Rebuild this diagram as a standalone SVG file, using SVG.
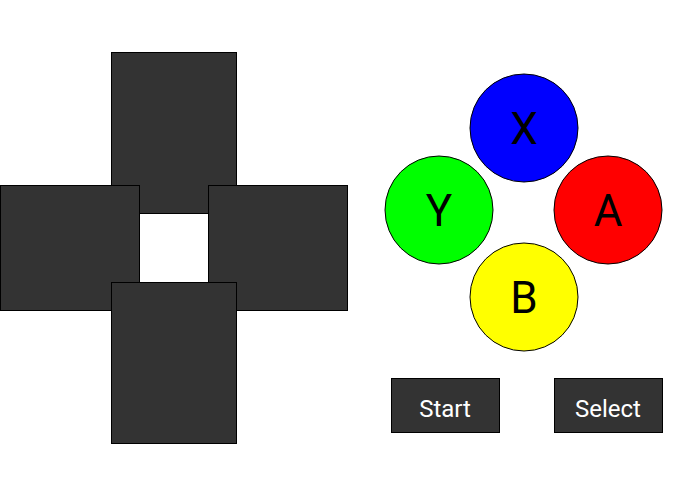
<svg xmlns="http://www.w3.org/2000/svg" width="695" height="494" viewBox="0 0 695 494">
<style>
.d{fill:#333;stroke:#000;stroke-width:1}
.c{stroke:#000;stroke-width:1}
.l{font-family:Roboto,"Liberation Sans",sans-serif;font-size:44px;fill:#000;text-anchor:middle}
.b{fill:#333;stroke:#000;stroke-width:1}
.t{font-family:Roboto,"Liberation Sans",sans-serif;font-size:24px;fill:#fff;text-anchor:middle}
</style>
<rect width="695" height="494" fill="#fff"/>
<g id="dpad-up"><rect class="d" x="111.5" y="52.5" width="125" height="161"/></g>
<g id="dpad-left"><rect class="d" x="0.5" y="185.5" width="139" height="125"/></g>
<g id="dpad-right"><rect class="d" x="208.5" y="185.5" width="139" height="125"/></g>
<g id="dpad-down"><rect class="d" x="111.5" y="282.5" width="125" height="161"/></g>
<g id="btn-x"><circle class="c" cx="524" cy="128" r="54" fill="#0000ff"/><text class="l" x="524" y="144">X</text></g>
<g id="btn-y"><circle class="c" cx="439" cy="210" r="54" fill="#00ff00"/><text class="l" x="439" y="226">Y</text></g>
<g id="btn-a"><circle class="c" cx="608" cy="210" r="54" fill="#ff0000"/><text class="l" x="608" y="226">A</text></g>
<g id="btn-b"><circle class="c" cx="524" cy="297" r="54" fill="#ffff00"/><text class="l" x="524" y="313">B</text></g>
<g id="btn-start"><rect class="b" x="391.5" y="378.5" width="108" height="54"/><text class="t" x="445" y="417">Start</text></g>
<g id="btn-select"><rect class="b" x="554.5" y="378.5" width="108" height="54"/><text class="t" x="608" y="417">Select</text></g>
<g id="connectors"/>
</svg>
